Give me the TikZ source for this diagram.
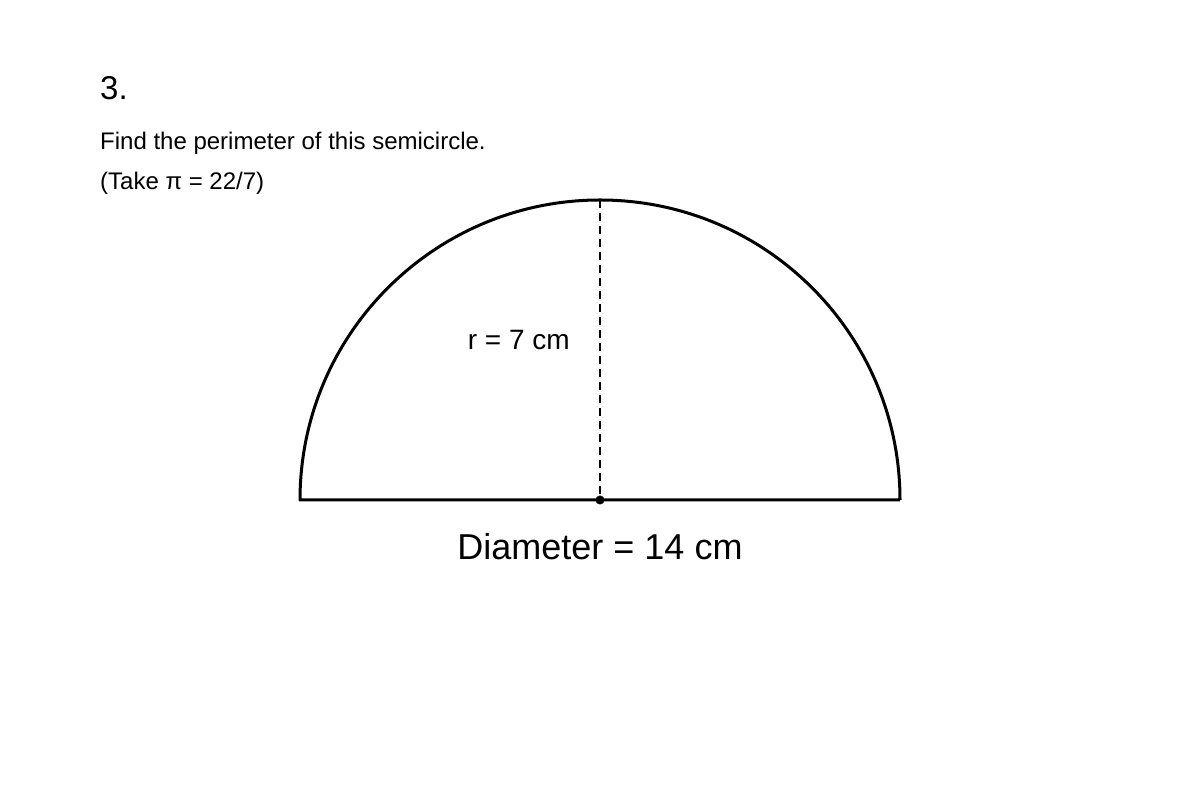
\documentclass[tikz,border=0pt]{standalone}
\usepackage{fontspec}
\setmainfont{Liberation Sans}
\tikzset{
  txt/.style={inner sep=0pt, font=\fontsize{24}{28}\selectfont},
  shape line/.style={line width=3pt, line join=round},
  radius line/.style={line width=2pt, dash pattern=on 8pt off 5pt}
}
\begin{document}
\begin{tikzpicture}[x=1pt,y=1pt]
    \useasboundingbox (0,0) rectangle (1200,800);

    \coordinate (o) at (600, 300);
    \coordinate (l) at (300, 300);
    \coordinate (r) at (900, 300);
    \coordinate (t) at (600, 600);

    \node [txt,anchor=base west,font=\fontsize{33}{38}\selectfont]
    (num) at (100, 700) {3.};

    \node [txt,anchor=base west] (task) at (100, 650)
    {Find the perimeter of this semicircle.};

    \node [txt,anchor=base west] (pi) at (100, 610)
    {(Take π = 22/7)};

    \draw [shape line] (r) arc [start angle=0, end angle=180,
    radius=300] -- (r);

    \draw [radius line] (t) -- (o);

    \node [anchor=center,circle,draw,fill,inner sep=3pt] (dot) at (o) {};

    \node [txt,anchor=base east,font=\fontsize{28}{32}\selectfont]
    (rlab) at (570, 450) {r = 7 cm};

    \node [txt,anchor=base,font=\fontsize{36}{40}\selectfont]
    (dlab) at (600, 240) {Diameter = 14 cm};
  \end{tikzpicture}
\end{document}
